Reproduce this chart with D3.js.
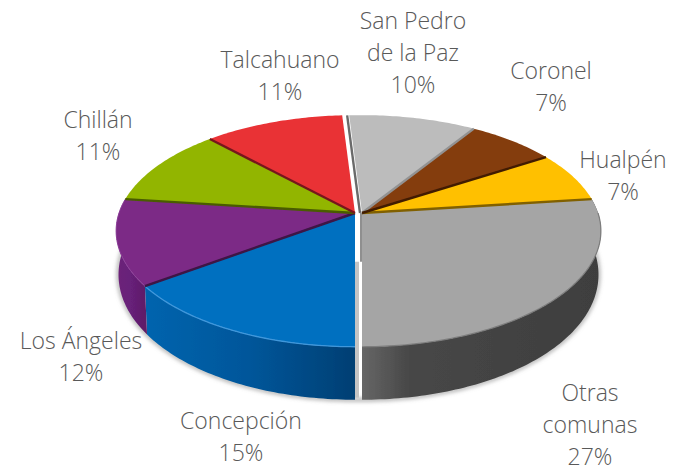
<!DOCTYPE html>
<html lang="es">
  <head>
    <meta charset="utf-8">
    <title></title>
    <script src="https://d3js.org/d3.v7.min.js"></script>
    <style>
      html, body { margin: 0; padding: 0; background: #fff; }
      svg { display: block; }
      text { font-family: "Open Sans", sans-serif; font-weight: 300; font-size: 23px; fill: #595959; }
    </style>
  </head>
  <body>
    <script type="text/javascript">
    let comunas = ["Otras comunas", "Concepción", "Los Ángeles", "Chillán", "Talcahuano", "San Pedro de la Paz", "Coronel", "Hualpén"];
    let valores = [27, 15, 12, 11, 11, 10, 7, 7];
    let colores = ["#a5a5a5", "#0070c0", "#7b2a86", "#92b500", "#e93035", "#bcbcbc", "#843c0c", "#ffc000"];
    let lineas = [["Otras", "comunas"], ["Concepción"], ["Los Ángeles"], ["Chillán"], ["Talcahuano"], ["San Pedro", "de la Paz"], ["Coronel"], ["Hualpén"]];

    // gradient stops for the walls that can be seen (first three slices)
    let paredes = [["#666666", "#474747", "#3e3e3e"], ["#0064ae", "#00569a", "#003f73"], ["#6e2279", "#67207a", "#5f1d68"]];

    // label anchor, centre of the first line
    let labelX = [590, 241, 81, 98, 280, 413, 551, 623];
    let labelY = [392, 420, 340, 119, 59, 20, 70, 159];
    let lineH = 32;

    let w = 679;
    let h = 472;
    let apexY = 213;
    let k = 0.155; // fake perspective

    let svg = d3.select("body").append("svg").attr("width", w).attr("height", h);
    let defs = svg.append("defs");
    defs.append("filter").attr("id", "soft").append("feGaussianBlur").attr("stdDeviation", 0.45);
    defs.append("filter").attr("id", "shadow").attr("x", "-5%").attr("y", "-5%").attr("width", "110%").attr("height", "115%")
      .append("feGaussianBlur").attr("stdDeviation", 2);

    let xScale = d3.scaleLinear().domain([-1, 1]).range([-236, 236]);
    let yScale = d3.scaleLinear().domain([-1, 1]).range([-113, 113]);
    let depth = d3.scaleLinear().domain([-1, 1]).range([31, 53]);

    let pie = d3.pie().sort(null)
      .startAngle(82.8 * Math.PI / 180)
      .endAngle((82.8 + 360) * Math.PI / 180);
    let arcs = pie(valores);

    // slices on the right half are pulled apart a little
    function centroX(d) {
      let mid = (d.startAngle + d.endAngle) / 2;
      return Math.sin(mid) > 0 ? 362 : 355;
    }

    function proj(a, cx, bottom) {
      let u = Math.sin(a), v = -Math.cos(a);
      let f = 1 / (1 - k * v);
      let x = xScale(u) * f;
      let y = yScale(v) * f;
      if (bottom) {
        x = x * 0.99;
        y = y + depth(v);
      }
      return [cx + x, apexY + y];
    }

    let line = d3.line();
    function arco(a0, a1, cx, bottom) {
      let n = Math.max(2, Math.ceil((a1 - a0) * 60));
      return d3.range(n + 1).map(i => proj(a0 + (a1 - a0) * i / n, cx, bottom));
    }

    let pieG = svg.append("g").attr("filter", "url(#soft)");

    // soft shadow under the walls
    let minA = 84 * Math.PI / 180, maxA = 277.2 * Math.PI / 180;
    let sombra = arco(minA, Math.PI, 362, true).concat(arco(Math.PI, maxA, 355, true));
    pieG.append("path").attr("d", line(sombra))
      .attr("fill", "none").attr("stroke", "#9a9a9a").attr("stroke-width", 3)
      .attr("filter", "url(#shadow)");

    // walls
    arcs.slice(0, 3).forEach((d, i) => {
      let cx = centroX(d);
      let a0 = Math.max(d.startAngle, 80 * Math.PI / 180);
      let a1 = Math.min(d.endAngle, 280 * Math.PI / 180);
      let top = arco(a0, a1, cx, false);
      let bot = arco(a0, a1, cx, true).reverse();
      let xs = top.map(p => p[0]);
      let id = "pared" + i;
      let grad = defs.append("linearGradient").attr("id", id)
        .attr("gradientUnits", "userSpaceOnUse")
        .attr("x1", d3.min(xs))
        .attr("x2", d3.max(xs)).attr("y1", 0).attr("y2", 0);
      paredes[i].forEach((c, j) => {
        grad.append("stop").attr("offset", i == 0 ? [0, 0.2, 1][j] : j / 2).attr("stop-color", c);
      });
      pieG.append("path").attr("d", line(top.concat(bot)) + "Z").attr("fill", "url(#" + id + ")");
    });

    // the two cut faces seen in the gap at the front
    let frente = proj(Math.PI, 0, false)[1];
    let frenteB = proj(Math.PI, 0, true)[1];
    pieG.append("line").attr("x1", 361.5).attr("x2", 361.5).attr("y1", apexY).attr("y2", frente - 85)
      .attr("stroke", "#8f8f8f").attr("stroke-width", 3);
    pieG.append("line").attr("x1", 357).attr("x2", 357).attr("y1", frente - 85).attr("y2", frenteB - 2)
      .attr("stroke", "#c4c4c4").attr("stroke-width", 4);

    // top faces, back ones first so the front ones sit over them
    let orden = [4, 3, 5, 6, 7, 2, 0, 1];
    orden.forEach(i => {
      let d = arcs[i];
      let cx = centroX(d);
      let pts = [[cx, apexY]].concat(arco(d.startAngle, d.endAngle, cx, false));
      pieG.append("path").attr("d", line(pts) + "Z").attr("fill", colores[i]);
    });

    // bevel on the front rim
    pieG.append("path").attr("d", line(arco(Math.PI, 234 * Math.PI / 180, 355, false)))
      .attr("fill", "none").attr("stroke", "#3f97db").attr("stroke-width", 1.3);
    pieG.append("path").attr("d", line(arco(90 * Math.PI / 180, Math.PI, 362, false)))
      .attr("fill", "none").attr("stroke", "#7d7d7d").attr("stroke-width", 1.2);
    pieG.append("path").attr("d", line(arco(234 * Math.PI / 180, 277 * Math.PI / 180, 355, false)))
      .attr("fill", "none").attr("stroke", "#8c3f98").attr("stroke-width", 1);

    // dark seams between slices, taking the tone of the slice above
    arcs.forEach((d, i) => {
      if (i == 1) return; // the gap at the front has no seam
      let derecha = Math.sin(d.startAngle) > 0;
      let sup = derecha ? (i + arcs.length - 1) % arcs.length : i;
      let cx = derecha ? 362 : 355;
      if (i == 5) cx = 360;
      let tono = i == 5 ? "#6b6b6b" : d3.color(colores[sup]).darker(i == 6 ? 0.7 : 1.9);
      pieG.append("path")
        .attr("d", line([[cx, apexY], proj(d.startAngle, cx, false)]))
        .attr("fill", "none").attr("stroke", tono).attr("stroke-width", 2.4);
    });

    // labels
    let labels = svg.selectAll("g.label")
      .data(arcs)
      .enter()
      .append("g")
      .attr("class", "label");

    labels.each(function (d, i) {
      let g = d3.select(this);
      let filas = lineas[i].concat(d.value + "%");
      filas.forEach((t, j) => {
        g.append("text")
          .attr("x", labelX[i])
          .attr("y", labelY[i] + j * lineH)
          .attr("text-anchor", "middle")
          .attr("dominant-baseline", "central")
          .text(t);
      });
    });
    </script>
  </body>
</html>
